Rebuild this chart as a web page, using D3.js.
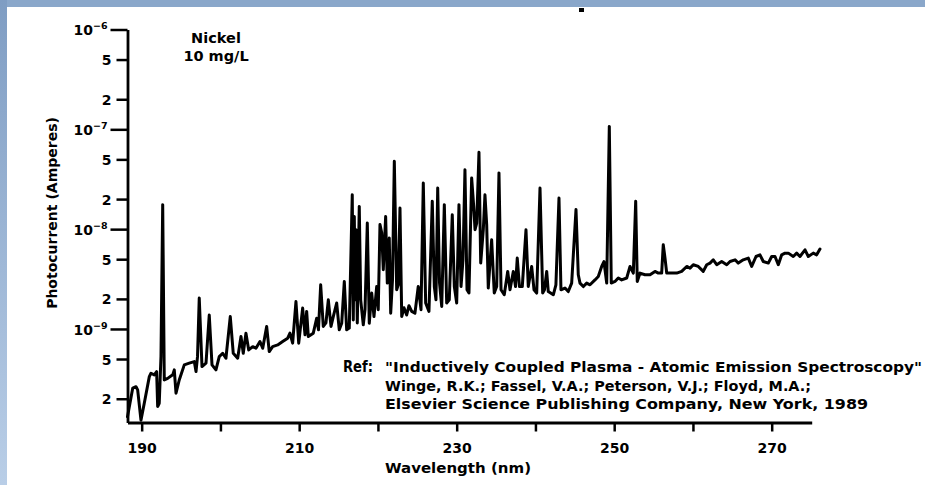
<!DOCTYPE html>
<html>
<head>
<meta charset="utf-8">
<script src="https://cdn.jsdelivr.net/npm/d3@7"></script>
<style>
  html, body { margin: 0; padding: 0; background: #fff; }
  svg { display: block; }
  text { font-family: "DejaVu Sans", "Liberation Sans", sans-serif; font-weight: bold; fill: #000; }
</style>
</head>
<body>
<svg id="chart" width="925" height="485"></svg>
<script>
// Nickel emission spectrum, 10 mg/L: [wavelength (nm), photocurrent (A)]
const spectrum = [
  [188.2, 1.32e-10], [188.86, 2.55e-10], [189.28, 2.64e-10], [189.49, 2.45e-10], [189.91, 1.22e-10],
  [190.33, 1.8e-10], [190.97, 3.33e-10], [191.18, 3.6e-10], [191.6, 3.47e-10], [191.9, 3.74e-10],
  [192.03, 1.67e-10], [192.23, 1.8e-10], [192.45, 5.28e-10], [192.67, 1.76e-8], [192.87, 3.08e-10],
  [193.3, 3.2e-10], [193.94, 3.47e-10], [194.14, 3.89e-10], [194.36, 2.27e-10], [194.77, 3.08e-10],
  [195.41, 4.37e-10], [196.04, 4.54e-10], [196.68, 4.71e-10], [196.9, 3.74e-10], [197.09, 5.28e-10],
  [197.31, 2.04e-9], [197.66, 4.2e-10], [198.17, 4.54e-10], [198.58, 1.38e-9], [198.93, 4.37e-10],
  [199.43, 3.89e-10], [199.85, 5.28e-10], [200.29, 5.71e-10], [200.7, 5.09e-10], [201.25, 1.33e-9],
  [201.63, 5.71e-10], [202.19, 5.09e-10], [202.61, 8.39e-10], [202.9, 5.71e-10], [203.24, 9.08e-10],
  [203.59, 6.17e-10], [204.1, 6.65e-10], [204.51, 6.41e-10], [205.02, 7.48e-10], [205.37, 6.41e-10],
  [205.87, 1.06e-9], [206.2, 5.93e-10], [206.63, 6.65e-10], [207.27, 6.92e-10], [207.9, 7.48e-10],
  [208.54, 8.09e-10], [208.83, 9.08e-10], [209.17, 7.21e-10], [209.59, 1.88e-9], [209.94, 7.21e-10],
  [210.44, 1.62e-9], [210.74, 8.73e-10], [210.95, 1.5e-9], [211.16, 8.39e-10], [211.79, 9.08e-10],
  [212.22, 1.28e-9], [212.45, 9.8e-10], [212.73, 2.77e-9], [213.06, 1.06e-9], [213.4, 1.15e-9],
  [213.7, 1.96e-9], [214.04, 1.06e-9], [214.33, 1.33e-9], [214.76, 1.82e-9], [215.09, 9.8e-10],
  [215.4, 1.14e-9], [215.73, 2.99e-9], [216.03, 9.8e-10], [216.36, 1.02e-9], [216.74, 2.21e-8],
  [216.87, 1.23e-9], [217.0, 1.34e-8], [217.12, 1.96e-9], [217.22, 9.86e-9], [217.38, 1.15e-9],
  [217.63, 1.69e-8], [217.81, 1.96e-9], [218.14, 1.1e-9], [218.36, 1.56e-9], [218.65, 1.15e-8],
  [218.9, 1.14e-9], [219.21, 2.29e-9], [219.5, 1.33e-9], [219.84, 2.66e-9], [220.04, 1.56e-9],
  [220.26, 1.11e-8], [220.48, 9.2e-9], [220.68, 3.92e-9], [220.98, 1.34e-8], [221.19, 2.88e-9],
  [221.44, 8.15e-9], [221.62, 1.44e-9], [221.85, 3.1e-9], [222.08, 4.78e-8], [222.38, 2.47e-9],
  [222.58, 2.77e-9], [222.8, 1.63e-8], [223.02, 1.33e-9], [223.31, 1.63e-9], [223.65, 1.38e-9],
  [223.94, 1.71e-9], [224.29, 1.5e-9], [224.7, 1.44e-9], [225.12, 2.66e-9], [225.47, 1.56e-9],
  [225.76, 2.9e-8], [226.06, 1.82e-9], [226.48, 1.5e-9], [226.9, 1.9e-8], [227.16, 2.66e-9],
  [227.37, 1.96e-9], [227.59, 2.58e-8], [227.82, 2.9e-9], [228.1, 1.68e-9], [228.43, 1.76e-8],
  [228.73, 1.82e-9], [229.06, 1.96e-9], [229.44, 1.39e-8], [229.7, 2.66e-9], [230.0, 1.82e-9],
  [230.29, 1.76e-8], [230.55, 2.66e-9], [230.8, 4.93e-9], [231.05, 3.94e-8], [231.31, 2.47e-9],
  [231.56, 2.29e-9], [231.9, 3.26e-8], [232.16, 1.69e-8], [232.33, 9.86e-9], [232.54, 1.15e-8],
  [232.83, 5.88e-8], [233.05, 4.57e-9], [233.38, 9.86e-9], [233.59, 2.21e-8], [233.81, 1.11e-8],
  [234.01, 2.57e-9], [234.44, 7.83e-9], [234.77, 2.29e-9], [235.08, 2.66e-9], [235.37, 3.66e-8],
  [235.63, 2.47e-9], [236.04, 2.2e-9], [236.48, 3.77e-9], [236.77, 2.47e-9], [237.19, 3.77e-9],
  [237.47, 2.66e-9], [237.69, 5.13e-9], [237.97, 2.66e-9], [238.33, 2.66e-9], [238.8, 9.86e-9],
  [239.09, 2.66e-9], [239.52, 4.23e-9], [239.82, 2.47e-9], [240.16, 2.29e-9], [240.58, 2.58e-8],
  [240.92, 2.29e-9], [241.15, 2.47e-9], [241.43, 3.77e-9], [241.63, 2.37e-9], [242.27, 2.2e-9],
  [242.6, 2.77e-9], [242.99, 2.05e-8], [243.24, 2.47e-9], [243.75, 2.57e-9], [244.17, 2.37e-9],
  [244.6, 2.88e-9], [245.15, 1.57e-8], [245.44, 3.49e-9], [245.66, 2.88e-9], [246.08, 2.66e-9],
  [246.51, 2.88e-9], [246.93, 2.77e-9], [247.56, 3.1e-9], [247.98, 3.36e-9], [248.41, 4.23e-9],
  [248.7, 4.74e-9], [249.05, 2.88e-9], [249.38, 1.07e-7], [249.63, 2.88e-9], [250.1, 2.99e-9],
  [250.52, 3.24e-9], [250.95, 3.1e-9], [251.59, 3.24e-9], [252.01, 4.23e-9], [252.43, 3.63e-9],
  [252.73, 1.9e-8], [252.93, 2.99e-9], [253.28, 3.63e-9], [253.91, 3.49e-9], [254.55, 3.49e-9],
  [255.18, 3.77e-9], [255.6, 3.63e-9], [256.03, 3.63e-9], [256.23, 6.98e-9], [256.45, 5.16e-9],
  [256.67, 3.63e-9], [257.3, 3.63e-9], [257.94, 3.63e-9], [258.57, 3.77e-9], [259.21, 4.23e-9],
  [259.63, 4.07e-9], [260.04, 4.4e-9], [260.68, 4.23e-9], [261.31, 3.77e-9], [261.75, 4.4e-9],
  [262.17, 4.57e-9], [262.58, 4.93e-9], [263.02, 4.4e-9], [263.65, 4.74e-9], [264.29, 4.4e-9],
  [264.71, 4.74e-9], [265.35, 4.93e-9], [265.76, 4.57e-9], [266.39, 4.93e-9], [267.03, 5.13e-9],
  [267.46, 4.23e-9], [268.01, 5.32e-9], [268.51, 5.53e-9], [268.93, 4.74e-9], [269.57, 4.57e-9],
  [270.0, 5.32e-9], [270.42, 5.32e-9], [270.84, 4.4e-9], [271.27, 5.53e-9], [271.69, 5.75e-9],
  [272.11, 5.75e-9], [272.74, 5.32e-9], [273.17, 5.75e-9], [273.59, 5.32e-9], [274.23, 6.21e-9],
  [274.65, 5.32e-9], [275.28, 5.75e-9], [275.71, 5.53e-9], [276.13, 6.31e-9]
];

const yTickValues = [2e-10, 5e-10, 1e-9, 2e-9, 5e-9, 1e-8, 2e-8, 5e-8, 1e-7, 2e-7, 5e-7, 1e-6];
const xTickValues = [190, 200, 210, 220, 230, 240, 250, 260, 270];
const xTickLabels = ["190", "", "210", "", "230", "", "250", "", "270"];
const xTitle = "Wavelength (nm)";
const yTitle = "Photocurrent (Amperes)";
const sampleLines = ["Nickel", "10 mg/L"];
const refLines = [
  "\"Inductively Coupled Plasma - Atomic Emission Spectroscopy\"",
  "Winge, R.K.; Fassel, V.A.; Peterson, V.J.; Floyd, M.A.;",
  "Elsevier Science Publishing Company, New York, 1989"
];
// rendered widths of the reference lines (px)
const refWidths = [537, 426, 483];

const W = 925, H = 485;
const svg = d3.select("#chart");

// page background and blue frame
const defs = svg.append("defs");
const grad = defs.append("linearGradient").attr("id", "edgeBlue")
  .attr("x1", 0).attr("y1", 0).attr("x2", 0).attr("y2", 1);
grad.append("stop").attr("offset", "0%").attr("stop-color", "#7f9dc3");
grad.append("stop").attr("offset", "100%").attr("stop-color", "#b9cee7");

svg.append("rect").attr("width", W).attr("height", H).attr("fill", "#fff");
svg.append("rect").attr("x", 0).attr("y", 0).attr("width", W).attr("height", 7).attr("fill", "#8aa7ca");
svg.append("rect").attr("x", 0).attr("y", 0).attr("width", 7).attr("height", H).attr("fill", "url(#edgeBlue)");
svg.append("rect").attr("x", 579).attr("y", 8).attr("width", 5).attr("height", 4).attr("fill", "#000");

// scales
const x = d3.scaleLinear().domain([188.2, 275.08]).range([127.5, 811.7]);
const y = d3.scaleLog().domain([1.156e-10, 1e-6]).range([422.5, 29.5]);

const isDecade = v => Math.abs(Math.log10(v) - Math.round(Math.log10(v))) < 1e-6;

// y axis
const gy = svg.append("g")
  .attr("transform", `translate(${x.range()[0]},0)`)
  .call(d3.axisLeft(y).tickValues(yTickValues).tickSize(11).tickSizeOuter(0).tickFormat(() => ""));
gy.attr("font-family", null);
gy.select(".domain").attr("stroke", "#000").attr("stroke-width", 2.8);
gy.selectAll(".tick line").attr("stroke", "#000").attr("stroke-width", 2.5)
  .attr("x2", d => isDecade(d) ? -17 : -11);
gy.selectAll(".tick text").each(function (d) {
  const t = d3.select(this).attr("dy", "0.36em").attr("font-size", 14).attr("text-anchor", "end");
  t.text(null);
  if (isDecade(d)) {
    t.attr("x", -20);
    t.append("tspan").text("10");
    t.append("tspan").attr("font-size", 9.5).attr("dy", -6).text("\u2212" + Math.abs(Math.round(Math.log10(d))));
  } else {
    t.attr("x", -16).text(String(Math.round(d / Math.pow(10, Math.floor(Math.log10(d))))));
  }
});

// x axis
const gx = svg.append("g")
  .attr("transform", `translate(0,${y.range()[0]})`)
  .call(d3.axisBottom(x).tickValues(xTickValues).tickSize(9).tickSizeOuter(0).tickPadding(12)
    .tickFormat((d, i) => xTickLabels[i]));
gx.attr("font-family", null);
gx.select(".domain").attr("stroke", "#000").attr("stroke-width", 2.8);
gx.selectAll(".tick line").attr("stroke", "#000").attr("stroke-width", 2.5);
gx.selectAll(".tick text").attr("font-size", 14).attr("fill", "#000");

// axis titles
svg.append("text").attr("x", 385).attr("y", 473)
  .attr("font-size", 14.5).attr("textLength", 146).attr("lengthAdjust", "spacingAndGlyphs").text(xTitle);
svg.append("text").attr("transform", "translate(57,213) rotate(-90)").attr("text-anchor", "middle")
  .attr("font-size", 14).text(yTitle);

// spectrum trace
const line = d3.line().x(d => x(d[0])).y(d => y(d[1]));
svg.append("path").datum(spectrum)
  .attr("d", line)
  .attr("fill", "none")
  .attr("stroke", "#000")
  .attr("stroke-width", 3)
  .attr("stroke-linejoin", "round")
  .attr("stroke-linecap", "round");

// sample annotation
sampleLines.forEach((s, i) => {
  svg.append("text").attr("x", 216).attr("y", 43 + i * 18).attr("text-anchor", "middle")
    .attr("font-size", 14.5).text(s);
});

// reference note
svg.append("text").attr("x", 343).attr("y", 372).attr("font-size", 15)
  .attr("textLength", 30).attr("lengthAdjust", "spacingAndGlyphs").text("Ref:");
refLines.forEach((s, i) => {
  svg.append("text").attr("x", 385).attr("y", 372 + i * 18.5).attr("font-size", 14.5)
    .attr("textLength", refWidths[i]).attr("lengthAdjust", "spacingAndGlyphs").text(s);
});
</script>
</body>
</html>
